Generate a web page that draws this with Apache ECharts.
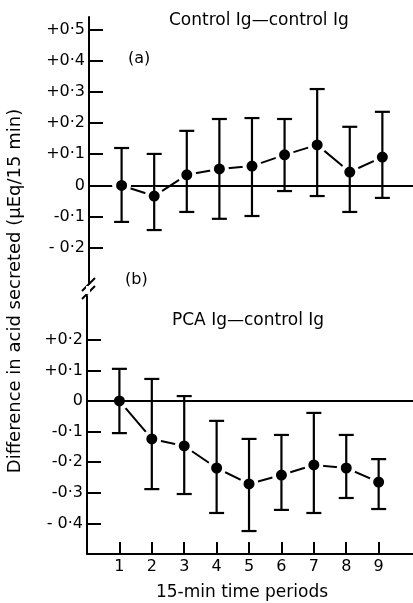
<!DOCTYPE html>
<html>
<head>
<meta charset="utf-8">
<script src="https://cdn.jsdelivr.net/npm/echarts@6/dist/echarts.min.js"></script>
<style>
  html, body { margin: 0; padding: 0; background: #fff; }
  #main { width: 413px; height: 603px; }
</style>
</head>
<body>
<div id="main"></div>
<script>
// 15-min time periods
var periods = [1, 2, 3, 4, 5, 6, 7, 8, 9];

// (a) Control Ig - control Ig
var ctrlMean = [0, -0.034, 0.034, 0.053, 0.062, 0.098, 0.13, 0.043, 0.091];
var ctrlHigh = [0.12, 0.101, 0.175, 0.213, 0.216, 0.213, 0.309, 0.188, 0.236];
var ctrlLow = [-0.117, -0.143, -0.085, -0.107, -0.098, -0.018, -0.034, -0.085, -0.04];

// (b) PCA Ig - control Ig
var pcaMean = [0, -0.124, -0.147, -0.219, -0.271, -0.242, -0.209, -0.219, -0.265];
var pcaHigh = [0.105, 0.072, 0.016, -0.065, -0.124, -0.111, -0.039, -0.111, -0.19];
var pcaLow = [-0.105, -0.288, -0.304, -0.366, -0.425, -0.356, -0.366, -0.317, -0.353];

// tick labels
var topTickValues = [0.5, 0.4, 0.3, 0.2, 0.1, 0, -0.1, -0.2];
var topTickLabels = ['+0·5', '+0·4', '+0·3', '+0·2', '+0·1', '0', '-0·1', '- 0·2'];
var botTickValues = [0.2, 0.1, 0, -0.1, -0.2, -0.3, -0.4];
var botTickLabels = ['+0·2', '+0·1', '0', '-0·1', '-0·2', '-0·3', '- 0·4'];

var FONT = 'DejaVu Sans';

function pickLabel(values, labels) {
    return function (v) {
        for (var i = 0; i < values.length; i++) {
            if (Math.abs(values[i] - v) < 1e-6) return labels[i];
        }
        return '';
    };
}

function pairs(means) {
    return periods.map(function (p, i) { return [p, means[i]]; });
}

function bars(low, high) {
    return periods.map(function (p, i) { return [p, low[i], high[i]]; });
}

// error bars with caps
function renderErr(params, api) {
    var x = api.value(0);
    var lo = api.coord([x, api.value(1)]);
    var hi = api.coord([x, api.value(2)]);
    var w = 7.5;
    var st = { stroke: '#000', lineWidth: 2.2 };
    return {
        type: 'group',
        children: [
            { type: 'line', shape: { x1: hi[0], y1: hi[1], x2: lo[0], y2: lo[1] }, style: st },
            { type: 'line', shape: { x1: hi[0] - w, y1: hi[1], x2: hi[0] + w, y2: hi[1] }, style: st },
            { type: 'line', shape: { x1: lo[0] - w, y1: lo[1], x2: lo[0] + w, y2: lo[1] }, style: st }
        ]
    };
}

var axisLine = { show: true, lineStyle: { color: '#000', width: 2 } };
var labelStyle = { color: '#000', fontFamily: FONT, fontSize: 16 };
var dotStyle = { color: '#000', borderColor: '#fff', borderWidth: 4 };

var myChart = echarts.init(document.getElementById('main'));
myChart.setOption({
    animation: false,
    backgroundColor: '#fff',
    textStyle: { fontFamily: FONT },
    grid: [
        { left: 89, top: 17, width: 324, height: 267 },
        { left: 87, top: 296, width: 326, height: 258 }
    ],
    xAxis: [
        {
            gridIndex: 0, type: 'value', min: 0, max: 9.94,
            axisLine: { show: true, onZero: true, lineStyle: { color: '#000', width: 2 } },
            axisTick: { show: false }, axisLabel: { show: false }, splitLine: { show: false }
        },
        {
            gridIndex: 1, type: 'value', min: 0, max: 10.06,
            axisLine: { show: true, onZero: false, lineStyle: { color: '#000', width: 2 } },
            axisTick: { show: true, inside: true, length: 12, customValues: periods, lineStyle: { color: '#000', width: 2 } },
            axisLabel: Object.assign({ customValues: periods, margin: 5 }, labelStyle),
            splitLine: { show: false }
        }
    ],
    yAxis: [
        {
            gridIndex: 0, type: 'value', min: -0.316, max: 0.54,
            axisLine: axisLine,
            axisTick: { show: true, inside: true, length: 14, customValues: topTickValues, lineStyle: { color: '#000', width: 2 } },
            axisLabel: Object.assign({ customValues: topTickValues, margin: 4, formatter: pickLabel(topTickValues, topTickLabels) }, labelStyle),
            splitLine: { show: false }
        },
        {
            gridIndex: 1, type: 'value', min: -0.5, max: 0.343,
            axisLine: axisLine,
            axisTick: { show: true, inside: true, length: 14, customValues: botTickValues, lineStyle: { color: '#000', width: 2 } },
            axisLabel: Object.assign({ customValues: botTickValues, margin: 4, formatter: pickLabel(botTickValues, botTickLabels) }, labelStyle),
            splitLine: { show: false }
        }
    ],
    series: [
        {
            type: 'line', xAxisIndex: 0, yAxisIndex: 0, z: 2,
            data: pairs(ctrlMean),
            symbol: 'circle', symbolSize: 15,
            itemStyle: dotStyle,
            lineStyle: { color: '#000', width: 2 }
        },
        {
            type: 'custom', xAxisIndex: 0, yAxisIndex: 0, z: 3,
            renderItem: renderErr, data: bars(ctrlLow, ctrlHigh),
            encode: { x: 0, y: [1, 2] }
        },
        {
            type: 'line', xAxisIndex: 1, yAxisIndex: 1, z: 2,
            data: pairs(pcaMean),
            symbol: 'circle', symbolSize: 15,
            itemStyle: dotStyle,
            lineStyle: { color: '#000', width: 2 },
            markLine: {
                silent: true, symbol: 'none', label: { show: false },
                lineStyle: { color: '#000', width: 2, type: 'solid' },
                data: [{ yAxis: 0 }]
            }
        },
        {
            type: 'custom', xAxisIndex: 1, yAxisIndex: 1, z: 3,
            renderItem: renderErr, data: bars(pcaLow, pcaHigh),
            encode: { x: 0, y: [1, 2] }
        }
    ],
    graphic: [
        { type: 'text', left: 169, top: 12, style: { text: 'Control Ig—control Ig', font: '17px "DejaVu Sans"', fill: '#000' } },
        { type: 'text', left: 128, top: 51, style: { text: '(a)', font: '16px "DejaVu Sans"', fill: '#000' } },
        { type: 'text', left: 125, top: 272, style: { text: '(b)', font: '16px "DejaVu Sans"', fill: '#000' } },
        { type: 'text', left: 172, top: 312, style: { text: 'PCA Ig—control Ig', font: '17px "DejaVu Sans"', fill: '#000' } },
        {
            type: 'text', x: 15, y: 291, rotation: Math.PI / 2,
            style: { text: 'Difference in acid secreted (μEq/15 min)', font: '18px "DejaVu Sans"', fill: '#000', align: 'center', verticalAlign: 'middle' }
        },
        {
            type: 'text', x: 242, y: 593,
            style: { text: '15-min time periods', font: '17px "DejaVu Sans"', fill: '#000', align: 'center', verticalAlign: 'middle' }
        },
        // axis break marks
        { type: 'line', shape: { x1: 82, y1: 291, x2: 95, y2: 278 }, style: { stroke: '#000', lineWidth: 2 } },
        { type: 'line', shape: { x1: 82, y1: 299, x2: 95, y2: 286 }, style: { stroke: '#000', lineWidth: 2 } },
        { type: 'rect', shape: { x: 86, y: 286, width: 4, height: 8 }, style: { fill: '#fff' } }
    ]
});
</script>
</body>
</html>
